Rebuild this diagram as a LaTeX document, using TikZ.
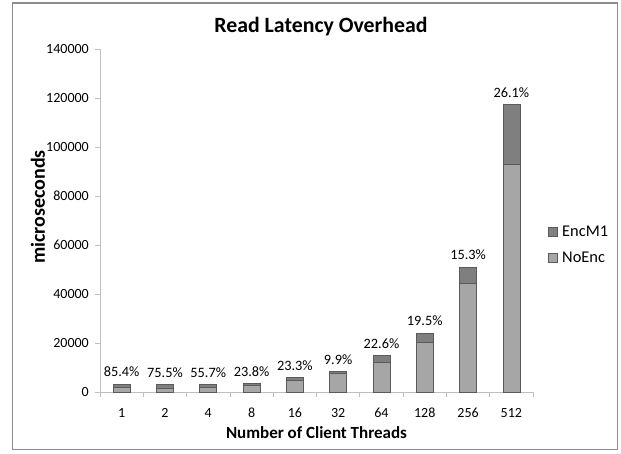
\documentclass[tikz,border=0pt]{standalone}
\usepackage{fontspec}
\setmainfont{Carlito}
\definecolor{noenc}{HTML}{A6A6A6}
\definecolor{encm}{HTML}{7F7F7F}
\definecolor{barline}{HTML}{5A5A5A}
\definecolor{axisgray}{HTML}{BFBFBF}
\definecolor{framegray}{HTML}{8C8C8C}
\begin{document}
\begin{tikzpicture}[x=1pt,y=-1pt,
  ticklab/.style={font=\fontsize{14}{17}\selectfont, inner sep=0pt},
  pctlab/.style={font=\fontsize{14.3}{17}\selectfont, inner sep=0pt},
  axtitle/.style={font=\bfseries\fontsize{17}{20}\selectfont, inner sep=0pt},
  legbox/.style={fill=#1, draw=barline, line width=0.5pt},
  barseg/.style={fill=#1, draw=barline, line width=0.6pt}]
\useasboundingbox (0,0) rectangle (621,453);
\fill[white] (0,0) rectangle (621,453);
\draw[framegray, line width=1.3pt] (12.5,3) rectangle (617.5,449.5);
% title
\node[font=\bfseries\fontsize{21.8}{26}\selectfont, inner sep=0pt] (title) at (321,27) {Read Latency Overhead};
% y axis
\draw[axisgray, line width=0.8pt] (100,49) -- (100,392);
\foreach \v [count=\i from 0] in {0,20000,40000,60000,80000,100000,120000,140000}{
  \pgfmathsetmacro\yy{392-\i*49}
  \draw[axisgray, line width=0.8pt] (95,\yy) -- (100,\yy);
  \node[ticklab, anchor=east] (ytick\i) at (89,\yy) {\v};
}
% x axis
\draw[axisgray, line width=0.8pt] (100,392) -- (533,392);
\foreach \k in {0,...,10}{
  \pgfmathsetmacro\xx{100+43.3*\k}
  \draw[axisgray, line width=0.8pt] (\xx,392) -- (\xx,397);
}
% bars (values in thousands of microseconds)
\foreach \lab/\N/\p/\pct [count=\i from 0] in {1/1.75/0.854/85.4\%,2/1.70/0.755/75.5\%,4/1.90/0.557/55.7\%,8/2.90/0.238/23.8\%,16/4.85/0.233/23.3\%,32/7.65/0.099/9.9\%,64/12.1/0.226/22.6\%,128/20.1/0.195/19.5\%,256/44.3/0.153/15.3\%,512/93.0/0.261/26.1\%}{
  \pgfmathsetmacro\xc{121.65+43.3*\i}
  \pgfmathsetmacro\yn{392-\N*2.45}
  \pgfmathsetmacro\yt{392-\N*(1+\p)*2.45}
  \draw[barseg=noenc] (\xc-8.5,392) rectangle (\xc+8.5,\yn);
  \draw[barseg=encm] (\xc-8.5,\yn) rectangle (\xc+8.5,\yt);
  \node[pctlab] (pct\i) at (\xc,\yt-12) {\pct};
  \node[ticklab] (xtick\i) at (\xc,413) {\lab};
}
% axis titles
\node[axtitle] (xtitle) at (316.5,433) {Number of Client Threads};
\node[axtitle, rotate=90, font=\bfseries\fontsize{20}{23}\selectfont] (ytitle) at (38,207) {microseconds};
% legend
\draw[legbox=encm] (548,227) rectangle (557.5,236);
\node[ticklab, anchor=west, font=\fontsize{16.4}{19}\selectfont] (legenc) at (562,231.5) {EncM1};
\draw[legbox=noenc] (548,253) rectangle (557.5,262);
\node[ticklab, anchor=west, font=\fontsize{16.4}{19}\selectfont] (legno) at (562,257.5) {NoEnc};
\end{tikzpicture}
\end{document}
